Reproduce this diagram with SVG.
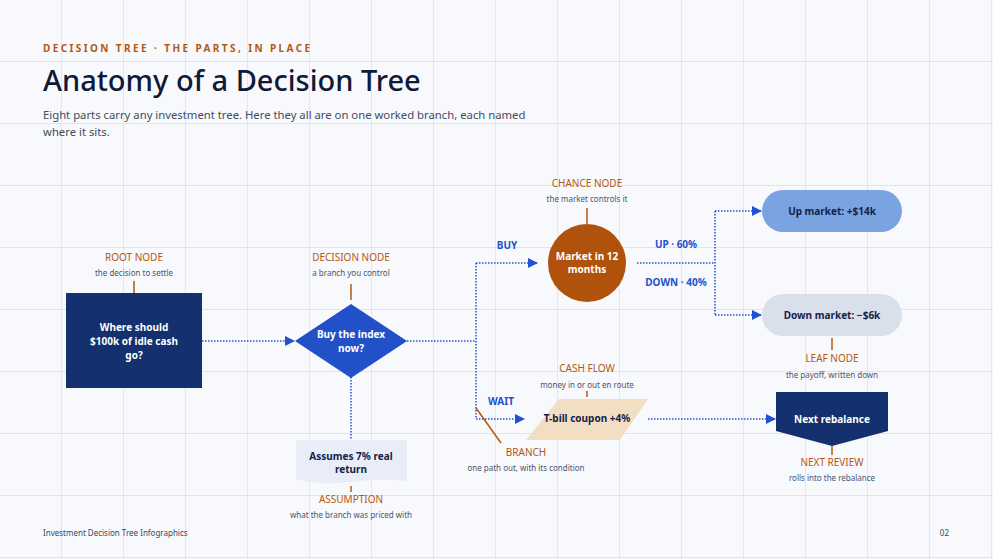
<svg xmlns="http://www.w3.org/2000/svg" width="993" height="559" viewBox="0 0 993 559">
<defs>
<pattern id="grid" width="62" height="62" patternUnits="userSpaceOnUse"><path d="M62 0V62M0 62H62" fill="none" stroke="#d6deee" stroke-width="1.4"/></pattern>
<marker id="ah" viewBox="0 0 10 10" refX="9" refY="5" markerWidth="10" markerHeight="10" markerUnits="userSpaceOnUse" orient="auto"><path d="M0 0L10 5L0 10Z" fill="#2350d0"/></marker>
<style>
text{font-family:"Noto Sans","Open Sans",sans-serif}
.lab{fill:#b5580f;font-size:10px;text-anchor:middle}
.sub{fill:#4a5570;font-size:8px;text-anchor:middle}
.tick{stroke:#b5580f;stroke-width:1.5}
.wt{fill:#fff;font-size:10px;font-weight:bold;text-anchor:middle}
.dt{fill:#14224a;font-size:10px;font-weight:bold;text-anchor:middle}
.bl{fill:#2350d0;font-size:10px;font-weight:bold;text-anchor:middle}
.con{fill:none;stroke:#2350d0;stroke-width:1.5;stroke-dasharray:1.5 1.5}
</style>
</defs>
<rect width="993" height="559" fill="#f7f9fd"/>
<rect width="993" height="559" fill="url(#grid)"/>
<text x="43" y="52" fill="#b5580f" font-size="10" font-weight="bold" letter-spacing="2.4">DECISION TREE · THE PARTS, IN PLACE</text>
<text x="43" y="91" fill="#101a38" font-size="29" font-weight="500">Anatomy of a Decision Tree</text>
<text x="43" y="119" fill="#444c60" font-size="11.3">Eight parts carry any investment tree. Here they all are on one worked branch, each named</text>
<text x="43" y="136" fill="#444c60" font-size="11.3">where it sits.</text>
<g id="connectors">
<path class="con" d="M202 341H294" marker-end="url(#ah)"/>
<path class="con" d="M351 377V440"/>
<path class="con" d="M407 341H476M476 263V419"/>
<path class="con" d="M476 263H537" marker-end="url(#ah)"/>
<path class="con" d="M476 419H524" marker-end="url(#ah)"/>
<path class="con" d="M637 263H715M715 211V315"/>
<path class="con" d="M715 211H761" marker-end="url(#ah)"/>
<path class="con" d="M715 315H761" marker-end="url(#ah)"/>
<path class="con" d="M648 419H775" marker-end="url(#ah)"/>
<text x="507" y="249" class="bl">BUY</text>
<text x="501" y="405" class="bl">WAIT</text>
<text x="676" y="248" class="bl">UP · 60%</text>
<text x="676" y="286" class="bl">DOWN · 40%</text>
</g>
<g id="root">
<text x="134" y="261" class="lab">ROOT NODE</text><text x="134" y="276" class="sub">the decision to settle</text>
<line x1="134" y1="281" x2="134" y2="293" class="tick"/>
<rect x="66" y="293" width="136" height="95" fill="#14306e"/>
<text x="134" y="331" class="wt" font-size="11">Where should</text><text x="134" y="345" class="wt" font-size="11">$100k of idle cash</text><text x="134" y="359" class="wt" font-size="11">go?</text>
</g>
<g id="decision">
<text x="351" y="261" class="lab">DECISION NODE</text><text x="351" y="276" class="sub">a branch you control</text>
<line x1="351" y1="284" x2="351" y2="300" class="tick"/>
<path d="M351 304L407 341L351 378L295 341Z" fill="#2150c8"/>
<text x="351" y="338" class="wt">Buy the index</text><text x="351" y="352" class="wt">now?</text>
</g>
<g id="assumption">
<path d="M296 440H407V481Q380 478 351 482T296 479Z" fill="#e8edf7"/>
<text x="351" y="460" class="dt" font-size="9">Assumes 7% real</text><text x="351" y="473" class="dt" font-size="9">return</text>
<line x1="351" y1="486" x2="351" y2="492" class="tick"/>
<text x="351" y="503" class="lab">ASSUMPTION</text><text x="351" y="518" class="sub">what the branch was priced with</text>
</g>
<g id="chance">
<text x="587" y="187" class="lab">CHANCE NODE</text><text x="587" y="202" class="sub">the market controls it</text>
<line x1="587" y1="208" x2="587" y2="224" class="tick"/>
<circle cx="587" cy="263" r="39" fill="#b0520c"/>
<text x="587" y="260" class="wt" font-size="9">Market in 12</text><text x="587" y="273" class="wt" font-size="9">months</text>
</g>
<g id="up">
<rect x="762" y="190" width="140" height="42" rx="21" fill="#7aa3e1"/>
<text x="832" y="215" class="dt">Up market: +$14k</text>
</g>
<g id="down">
<rect x="762" y="294" width="140" height="42" rx="21" fill="#d9e0ec"/>
<text x="832" y="319" class="dt">Down market: −$6k</text>
<line x1="832" y1="338" x2="832" y2="350" class="tick"/>
<text x="832" y="362" class="lab">LEAF NODE</text><text x="832" y="378" class="sub">the payoff, written down</text>
</g>
<g id="cashflow">
<text x="587" y="372" class="lab">CASH FLOW</text><text x="587" y="388" class="sub">money in or out en route</text>
<line x1="587" y1="391" x2="587" y2="397" class="tick"/>
<path d="M559 399H648L620 440H526Z" fill="#f2dfc3"/>
<text x="587" y="422" class="dt" font-size="9.5">T-bill coupon +4%</text>
</g>
<g id="review">
<path d="M776 392H888V431L832 446L776 431Z" fill="#14306e"/>
<text x="832" y="423" class="wt">Next rebalance</text>
<line x1="832" y1="446" x2="832" y2="455" class="tick"/>
<text x="832" y="466" class="lab">NEXT REVIEW</text><text x="832" y="481" class="sub">rolls into the rebalance</text>
</g>
<g id="branch">
<line x1="476" y1="408" x2="501" y2="443" class="tick"/>
<text x="526" y="456" class="lab">BRANCH</text><text x="526" y="471" class="sub">one path out, with its condition</text>
</g>
<text x="43" y="536" fill="#3a4560" font-size="8">Investment Decision Tree Infographics</text>
<text x="949" y="536" fill="#3a4560" font-size="8" text-anchor="end">02</text>
</svg>
